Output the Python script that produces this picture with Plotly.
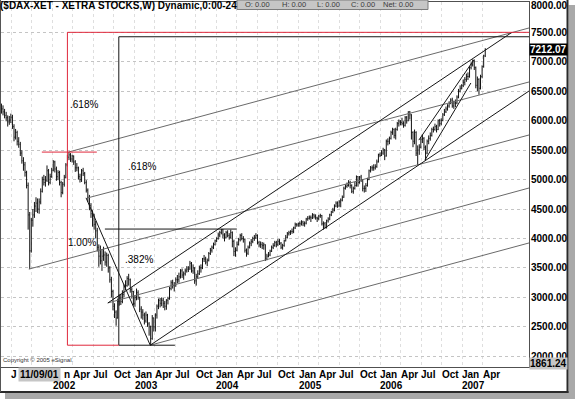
import pandas as pd
import plotly.graph_objects as go

# ---------------- data (weekly DAX bars) ----------------
first_week = "2001-05-18"

opens = [
    # 2001
    6150, 6200, 6150, 6090, 6050, 5980, 6010, 6058, 5900, 5720, 5800, 5650, 5600, 5450, 5320, 5250, 5120,
    4900, 4400, 3790, 4310, 4400, 4550, 4600, 4500, 4620, 4800, 5000, 4950, 4990, 5150, 4950, 5050,
    # 2002
    5160, 5300, 5180, 5050, 5120, 4950, 4780, 4920, 5040, 5250, 5380, 5420, 5350, 5400, 5300, 5200, 5200,
    5050, 5000, 5150, 5100, 4950, 4820, 4700, 4560, 4420, 4380, 4240, 4130, 3850, 3700, 3620, 3700, 3720,
    3600, 3712, 3500, 3300, 3100, 2850, 2750, 2650, 2930, 2990, 2930, 3050, 3180, 3200, 3320, 3300, 3130, 3100,
    # 2003
    2892, 3000, 3080, 3000, 2800, 2750, 2700, 2600, 2700, 2550, 2500, 2300, 2650, 2500, 2700, 2850, 2950,
    2900, 2950, 2900, 2850, 2950, 2980, 3150, 3250, 3200, 3220, 3300, 3300, 3350, 3450, 3380, 3400, 3450,
    3480, 3480, 3580, 3450, 3500, 3280, 3350, 3400, 3500, 3500, 3655, 3650, 3600, 3630, 3745, 3800, 3850, 3900,
    # 2004
    3960, 4000, 4060, 4100, 4150, 4060, 4020, 4100, 4050, 4020, 4100, 3950, 3780, 3800, 3900, 3980, 4050,
    4000, 3985, 3800, 3750, 3850, 3920, 3950, 4000, 4020, 4050, 3930, 3890, 3900, 3880, 3895, 3650, 3700,
    3720, 3785, 3850, 3880, 3930, 3900, 3950, 3920, 3850, 3880, 3960, 4020, 4080, 4100, 4120, 4120, 4180,
    4240, 4230,
    # 2005
    4256, 4250, 4280, 4250, 4260, 4330, 4340, 4360, 4350, 4400, 4380, 4350, 4340, 4380, 4390, 4250, 4250,
    4185, 4300, 4330, 4400, 4450, 4480, 4550, 4600, 4550, 4620, 4650, 4700, 4850, 4886, 4900, 4950, 4900,
    4800, 4850, 4900, 5050, 4950, 5044, 5000, 4850, 4850, 4900, 5000, 5150, 5200, 5200, 5200, 5220, 5300, 5420,
    # 2006
    5408, 5450, 5500, 5400, 5650, 5650, 5700, 5800, 5850, 5750, 5850, 5950, 5980, 5970, 5950, 5920, 6050,
    6000, 6150, 6100, 5800, 5650, 5800, 5450, 5500, 5550, 5683, 5700, 5550, 5450, 5650, 5700, 5750, 5850,
    5850, 5900, 5850, 6000, 5950, 6004, 6100, 6150, 6200, 6250, 6300, 6350, 6250, 6300, 6300, 6400, 6500, 6550,
    # 2007
    6597, 6650, 6700, 6750, 6750, 6900, 6950, 7000, 6900, 6600, 6700, 6550, 6750, 6917, 7100,
]

highs = [
    # 2001
    6290, 6260, 6200, 6150, 6090, 6080, 6120, 6100, 5940, 5860, 5830, 5720, 5640, 5500, 5380, 5300, 5150,
    4950, 4450, 4350, 4500, 4620, 4700, 4680, 4680, 4850, 5050, 5080, 5060, 5240, 5180, 5100, 5200,
    # 2002
    5330, 5320, 5220, 5160, 5150, 4980, 4960, 5080, 5280, 5420, 5467, 5450, 5420, 5410, 5330, 5280, 5220,
    5100, 5180, 5200, 5130, 4990, 4850, 4740, 4600, 4480, 4420, 4300, 4180, 3900, 3880, 3820, 3860, 3780,
    3760, 3740, 3530, 3350, 3130, 2900, 2780, 2980, 3050, 3060, 3120, 3220, 3290, 3360, 3400, 3320, 3170, 3110,
    # 2003
    3030, 3150, 3120, 3010, 2850, 2800, 2740, 2760, 2720, 2580, 2520, 2700, 2660, 2730, 2880, 2980, 2990,
    3000, 2990, 2940, 2970, 3010, 3180, 3290, 3300, 3260, 3340, 3380, 3420, 3480, 3490, 3440, 3490, 3530,
    3530, 3620, 3600, 3560, 3510, 3400, 3460, 3540, 3560, 3670, 3720, 3690, 3660, 3770, 3840, 3880, 3930, 3980,
    # 2004
    4020, 4100, 4130, 4160, 4160, 4090, 4130, 4140, 4090, 4150, 4120, 3980, 3850, 3950, 4010, 4080, 4090,
    4040, 4000, 3830, 3880, 3950, 3990, 4030, 4060, 4090, 4070, 3960, 3950, 3940, 3930, 3900, 3740, 3770,
    3810, 3880, 3920, 3960, 3960, 3990, 3990, 3940, 3910, 3980, 4060, 4110, 4130, 4140, 4170, 4200, 4270,
    4260, 4270,
    # 2005
    4290, 4310, 4300, 4290, 4350, 4380, 4390, 4390, 4430, 4420, 4410, 4370, 4400, 4420, 4400, 4290, 4280,
    4320, 4360, 4420, 4470, 4520, 4580, 4630, 4630, 4650, 4680, 4730, 4880, 4920, 4950, 4990, 4980, 4920,
    4880, 4960, 5070, 5060, 5060, 5080, 5010, 4900, 4940, 5030, 5170, 5230, 5240, 5260, 5260, 5340, 5440, 5460,
    # 2006
    5500, 5540, 5520, 5680, 5700, 5730, 5830, 5880, 5870, 5880, 5980, 6020, 6010, 6050, 5990, 6080, 6080,
    6160, 6165, 6110, 5820, 5850, 5820, 5580, 5600, 5720, 5760, 5720, 5580, 5680, 5750, 5800, 5880, 5900,
    5950, 5930, 6020, 6030, 6040, 6130, 6200, 6240, 6280, 6330, 6380, 6390, 6340, 6360, 6430, 6540, 6600, 6620,
    # 2007
    6700, 6740, 6800, 6820, 6930, 6990, 7040, 7040, 6920, 6750, 6720, 6780, 6940, 7120, 7230,
]

lows = [
    # 2001
    6120, 6090, 6040, 5990, 5900, 5930, 5960, 5860, 5650, 5680, 5580, 5540, 5400, 5270, 5150, 5050, 4850,
    4150, 3480, 3760, 4200, 4350, 4450, 4430, 4420, 4580, 4780, 4900, 4880, 4960, 4900, 4920, 5030,
    # 2002
    5140, 5120, 4980, 4990, 4900, 4700, 4750, 4880, 5020, 5220, 5330, 5300, 5290, 5250, 5130, 5140, 5000,
    4950, 4960, 5060, 4920, 4780, 4620, 4480, 4350, 4200, 4150, 4000, 3780, 3520, 3560, 3450, 3620, 3540,
    3520, 3420, 3250, 3000, 2780, 2650, 2519, 2640, 2860, 2870, 2900, 3000, 3120, 3180, 3200, 3080, 2980, 2860,
    # 2003
    2840, 2950, 2960, 2750, 2640, 2620, 2540, 2570, 2500, 2350, 2188, 2280, 2420, 2420, 2640, 2800, 2830,
    2850, 2820, 2780, 2790, 2880, 2960, 3120, 3150, 3100, 3180, 3240, 3250, 3320, 3330, 3300, 3370, 3420,
    3430, 3470, 3420, 3400, 3230, 3200, 3320, 3380, 3420, 3480, 3600, 3560, 3530, 3610, 3720, 3760, 3820, 3880,
    # 2004
    3940, 3980, 4020, 4070, 4000, 3950, 4000, 4020, 3980, 4000, 3850, 3700, 3690, 3780, 3880, 3950, 3970,
    3930, 3760, 3690, 3720, 3830, 3870, 3920, 3960, 3990, 3900, 3850, 3840, 3820, 3810, 3618, 3630, 3680,
    3700, 3770, 3820, 3860, 3850, 3870, 3890, 3820, 3810, 3860, 3950, 4000, 4050, 4060, 4080, 4090, 4160,
    4200, 4200,
    # 2005
    4200, 4220, 4210, 4200, 4240, 4300, 4320, 4280, 4330, 4340, 4320, 4280, 4310, 4350, 4220, 4150, 4170,
    4170, 4270, 4310, 4380, 4430, 4460, 4530, 4520, 4540, 4530, 4630, 4690, 4830, 4860, 4880, 4850, 4770,
    4760, 4830, 4880, 4880, 4930, 4960, 4800, 4780, 4790, 4880, 4990, 5120, 5150, 5150, 5170, 5200, 5290, 5380,
    # 2006
    5400, 5420, 5330, 5390, 5580, 5600, 5680, 5760, 5700, 5680, 5830, 5900, 5920, 5920, 5880, 5900, 5950,
    5990, 6020, 5680, 5550, 5600, 5400, 5243, 5420, 5530, 5620, 5500, 5330, 5430, 5600, 5660, 5730, 5800,
    5830, 5800, 5840, 5900, 5920, 5990, 6080, 6130, 6170, 6220, 6280, 6220, 6200, 6230, 6280, 6380, 6480, 6530,
    # 2007
    6570, 6600, 6660, 6690, 6730, 6870, 6920, 6860, 6550, 6500, 6440, 6530, 6720, 6900, 7080,
]

closes = [
    # 2001
    6200, 6150, 6090, 6050, 5980, 6010, 6058, 5900, 5720, 5800, 5650, 5600, 5450, 5320, 5250, 5120, 4900,
    4400, 3790, 4310, 4400, 4550, 4600, 4500, 4620, 4800, 5000, 4950, 4990, 5150, 4950, 5050, 5160,
    # 2002
    5300, 5180, 5050, 5120, 4950, 4780, 4920, 5040, 5250, 5380, 5420, 5350, 5400, 5300, 5200, 5200, 5050,
    5000, 5150, 5100, 4950, 4820, 4700, 4560, 4420, 4380, 4240, 4130, 3850, 3700, 3620, 3700, 3720, 3600,
    3712, 3500, 3300, 3100, 2850, 2750, 2650, 2930, 2990, 2930, 3050, 3180, 3200, 3320, 3300, 3130, 3100, 2892,
    # 2003
    3000, 3080, 3000, 2800, 2750, 2700, 2600, 2700, 2550, 2500, 2300, 2650, 2500, 2700, 2850, 2950, 2900,
    2950, 2900, 2850, 2950, 2980, 3150, 3250, 3200, 3220, 3300, 3300, 3350, 3450, 3380, 3400, 3450, 3480,
    3480, 3580, 3450, 3500, 3280, 3350, 3400, 3500, 3500, 3655, 3650, 3600, 3630, 3745, 3800, 3850, 3900, 3960,
    # 2004
    4000, 4060, 4100, 4150, 4060, 4020, 4100, 4050, 4020, 4100, 3950, 3780, 3800, 3900, 3980, 4050, 4000,
    3985, 3800, 3750, 3850, 3920, 3950, 4000, 4020, 4050, 3930, 3890, 3900, 3880, 3895, 3650, 3700, 3720,
    3785, 3850, 3880, 3930, 3900, 3950, 3920, 3850, 3880, 3960, 4020, 4080, 4100, 4120, 4120, 4180, 4240,
    4230, 4256,
    # 2005
    4250, 4280, 4250, 4260, 4330, 4340, 4360, 4350, 4400, 4380, 4350, 4340, 4380, 4390, 4250, 4250, 4185,
    4300, 4330, 4400, 4450, 4480, 4550, 4600, 4550, 4620, 4650, 4700, 4850, 4886, 4900, 4950, 4900, 4800,
    4850, 4900, 5050, 4950, 5044, 5000, 4850, 4850, 4900, 5000, 5150, 5200, 5200, 5200, 5220, 5300, 5420, 5408,
    # 2006
    5450, 5500, 5400, 5650, 5650, 5700, 5800, 5850, 5750, 5850, 5950, 5980, 5970, 5950, 5920, 6050, 6000,
    6150, 6100, 5800, 5650, 5800, 5450, 5500, 5550, 5683, 5700, 5550, 5450, 5650, 5700, 5750, 5850, 5850,
    5900, 5850, 6000, 5950, 6004, 6100, 6150, 6200, 6250, 6300, 6350, 6250, 6300, 6300, 6400, 6500, 6550, 6597,
    # 2007
    6650, 6700, 6750, 6750, 6900, 6950, 7000, 6900, 6600, 6700, 6550, 6750, 6917, 7100, 7212.07,
]

# drawn study lines: (date0, value0, date1, value1)
red_lines = [
    ("2002-03-08", 7500, "2002-03-08", 2188),
    ("2002-03-08", 7500, "2007-10-25", 7500),
    ("2002-03-08", 2188, "2002-10-23", 2188),
    ("2001-11-14", 5467, "2002-07-17", 5467),
]
black_lines = [
    ("2002-10-23", 7425, "2002-10-23", 2188),
    ("2002-10-23", 7425, "2007-10-25", 7425),
    ("2002-10-23", 2188, "2003-06-30", 2188),
    ("2002-08-22", 4160, "2004-04-01", 4160),
    ("2002-09-04", 2905, "2007-08-10", 7500),
    ("2003-03-12", 2188, "2007-10-25", 6504),
    ("2002-05-30", 4690, "2003-03-12", 2188),
    ("2006-06-21", 5670, "2007-02-21", 7031),
    ("2006-07-18", 5330, "2007-02-08", 6640),
]
gray_lines = [
    ("2002-03-12", 5467, "2007-10-25", 7574),
    ("2002-06-07", 4690, "2007-10-25", 6657),
    ("2001-09-17", 3480, "2007-10-25", 5757),
    ("2002-09-04", 2905, "2007-10-25", 4857),
    ("2003-03-12", 2188, "2007-10-25", 3924),
]
fib_labels = [
    (".618%", "2002-03-10", 6267),
    (".618%", "2002-11-24", 5214),
    ("1.00%", "2002-03-01", 3924),
    (".382%", "2002-11-10", 3635),
]

y_label_values = [8000, 7500, 7000, 6500, 6000, 5500, 5000, 4500, 4000, 3500, 3000, 2500, 2000]
last_value = 7212.07
axis_low_value = 1861.24
month_names = ["Jan", "Apr", "Jul", "Oct"]
month_numbers = [1, 4, 7, 10]
label_years = [2002, 2003, 2004, 2005, 2006, 2007]
year_labels = ["2002", "2003", "2004", "2005", "2006", "2007"]
cursor_date_text = "11/09/01"
title_text = "($DAX-XET - XETRA STOCKS,W) Dynamic,0:00-24"
ohlc_box_items = ["O: 0.00", "H: 0.00", "L: 0.00", "C: 0.00", "Net: 0.00"]
copyright_text = "Copyright \u00a9 2005 eSignal."

x_range = ["2001-05-16", "2007-10-25"]
y_range = [1818, 8015]

# ---------------- figure ----------------
FONT = "Liberation Sans, Arial, sans-serif"
RED = "#e0283c"
W, H = 575, 399
ML, MR, MT, MB = 1, 46, 2, 32
PW, PH = W - ML - MR, H - MT - MB


def pxx(px):
    return (px - ML) / PW


def pxy(py):
    return (H - MB - py) / PH


dates = pd.date_range(first_week, periods=len(closes), freq="W-FRI")

fig = go.Figure(go.Ohlc(
    x=dates, open=opens, high=highs, low=lows, close=closes,
    increasing=dict(line=dict(color="#111111", width=1)),
    decreasing=dict(line=dict(color="#111111", width=1)),
    tickwidth=0.35, hoverinfo="skip",
))

tick_dates, tick_texts = [pd.Timestamp("2001-07-01"), pd.Timestamp("2001-10-01")], ["", ""]
for yr in label_years:
    for m, name in zip(month_numbers, month_names):
        d = pd.Timestamp(year=yr, month=m, day=1)
        if d <= pd.Timestamp("2007-04-01"):
            tick_dates.append(d)
            tick_texts.append(name)

shapes = []
for d0, v0, d1, v1 in gray_lines:
    shapes.append(dict(type="line", xref="x", yref="y", x0=d0, y0=v0, x1=d1, y1=v1,
                       line=dict(color="#6a6a6a", width=1)))
for d0, v0, d1, v1 in black_lines:
    shapes.append(dict(type="line", xref="x", yref="y", x0=d0, y0=v0, x1=d1, y1=v1,
                       line=dict(color="#151515", width=1)))
for d0, v0, d1, v1 in red_lines:
    shapes.append(dict(type="line", xref="x", yref="y", x0=d0, y0=v0, x1=d1, y1=v1,
                       line=dict(color=RED, width=1)))

# window frame and shadow
shapes += [
    dict(type="rect", xref="paper", yref="paper", x0=pxx(568.5), x1=pxx(575), y0=pxy(399), y1=pxy(5),
         fillcolor="#a9a9a9", line=dict(width=0), layer="above"),
    dict(type="rect", xref="paper", yref="paper", x0=pxx(5), x1=pxx(575), y0=pxy(399), y1=pxy(393),
         fillcolor="#a9a9a9", line=dict(width=0), layer="above"),
    dict(type="line", xref="paper", yref="paper", x0=pxx(567.5), x1=pxx(567.5), y0=pxy(393), y1=pxy(0),
         line=dict(color="#2a2a2a", width=2)),
    dict(type="line", xref="paper", yref="paper", x0=pxx(0), x1=pxx(568.5), y0=pxy(392), y1=pxy(392),
         line=dict(color="#2a2a2a", width=2)),
    dict(type="line", xref="paper", yref="paper", x0=pxx(0.5), x1=pxx(0.5), y0=pxy(392), y1=pxy(0),
         line=dict(color="#555555", width=1)),
    # header O/H/L/C box
    dict(type="rect", xref="paper", yref="paper", x0=pxx(237), x1=pxx(428), y0=pxy(9.5), y1=pxy(0),
         fillcolor="#c6c6c6", line=dict(color="#7c7c7c", width=1), layer="above"),
]

ann = []
# title
ann.append(dict(xref="paper", yref="paper", x=pxx(-2), y=pxy(5.5), xanchor="left", yanchor="middle",
                text="<b>" + title_text + "</b>", showarrow=False,
                font=dict(family=FONT, size=10, color="#000000")))
# header box items
for txt, px in zip(ohlc_box_items, [243, 280, 315, 349, 381]):
    ann.append(dict(xref="paper", yref="paper", x=pxx(px), y=pxy(4.5), xanchor="left", yanchor="middle",
                    text=txt, showarrow=False, font=dict(family=FONT, size=7.5, color="#3a3a3a")))
# fib labels
for txt, d, v in fib_labels:
    ann.append(dict(xref="x", yref="y", x=d, y=v, xanchor="left", yanchor="middle", text=txt,
                    showarrow=False, font=dict(family=FONT, size=10, color="#000000")))
# copyright
ann.append(dict(xref="paper", yref="paper", x=pxx(1), y=pxy(360), xanchor="left", yanchor="middle",
                text=copyright_text, showarrow=False, font=dict(family=FONT, size=6, color="#333333")))
# y labels
for v in y_label_values:
    ann.append(dict(xref="paper", yref="y", x=pxx(529), y=v, xanchor="left", yanchor="middle",
                    yshift=-3 if v == 8000 else 0,
                    text="<b>%.2f</b>" % v, showarrow=False, font=dict(family=FONT, size=10, color="#000000")))
ann.append(dict(xref="paper", yref="y", x=pxx(529), y=last_value, xanchor="left", yanchor="middle",
                text="<b>%.2f</b>" % last_value, showarrow=False, bgcolor="#000000", borderpad=0,
                font=dict(family=FONT, size=10, color="#ffffff")))
ann.append(dict(xref="paper", yref="paper", x=pxx(529), y=pxy(363), xanchor="left", yanchor="middle",
                text="<b>%.2f</b>" % axis_low_value, showarrow=False, bgcolor="#c6c6c6", borderpad=0,
                font=dict(family=FONT, size=10, color="#000000")))
# x labels: first quarter labels partly hidden behind the cursor-date box
ann.append(dict(xref="x", yref="paper", x="2001-07-01", y=pxy(374), xanchor="left", yanchor="middle",
                xshift=-2, text="<b>J</b>", showarrow=False, font=dict(family=FONT, size=10, color="#000000")))
ann.append(dict(xref="paper", yref="paper", x=pxx(17.5), y=pxy(374), xanchor="left", yanchor="middle",
                text="<b>" + cursor_date_text + "</b>", showarrow=False, bgcolor="#c6c6c6", borderpad=1,
                font=dict(family=FONT, size=10, color="#000000")))
for d, t in zip(tick_dates, tick_texts):
    if not t:
        continue
    if d == pd.Timestamp("2002-01-01"):
        ann.append(dict(xref="paper", yref="paper", x=pxx(62), y=pxy(374), xanchor="left", yanchor="middle",
                        text="<b>n</b>", showarrow=False, font=dict(family=FONT, size=10, color="#000000")))
        continue
    ann.append(dict(xref="x", yref="paper", x=d, y=pxy(374), xanchor="left", yanchor="middle", xshift=-2,
                    text="<b>" + t + "</b>", showarrow=False, font=dict(family=FONT, size=10, color="#000000")))
for yl in year_labels:
    ann.append(dict(xref="x", yref="paper", x=yl + "-01-01", y=pxy(386), xanchor="left", yanchor="middle",
                    xshift=-2, text="<b>" + yl + "</b>", showarrow=False,
                    font=dict(family=FONT, size=10, color="#000000")))

fig.update_layout(
    width=W, height=H, margin=dict(l=ML, r=MR, t=MT, b=MB),
    paper_bgcolor="#ffffff", plot_bgcolor="#ffffff", showlegend=False,
    shapes=shapes, annotations=ann,
    xaxis=dict(type="date", range=x_range, rangeslider=dict(visible=False),
               tickvals=tick_dates, showticklabels=False, ticks="",
               showgrid=True, gridcolor="#dedede", griddash="dot", gridwidth=1,
               showline=True, mirror=True, linecolor="#505050", linewidth=1, zeroline=False),
    yaxis=dict(range=y_range, tickvals=y_label_values, showticklabels=False, ticks="",
               showgrid=True, gridcolor="#c4c4c4", griddash="dot", gridwidth=1,
               showline=True, mirror=True, linecolor="#505050", linewidth=1, zeroline=False),
)

fig.write_html(
    "out.html",
    config={"displayModeBar": False},
    post_script="document.body.style.margin='0px';document.body.style.overflow='hidden';",
)
